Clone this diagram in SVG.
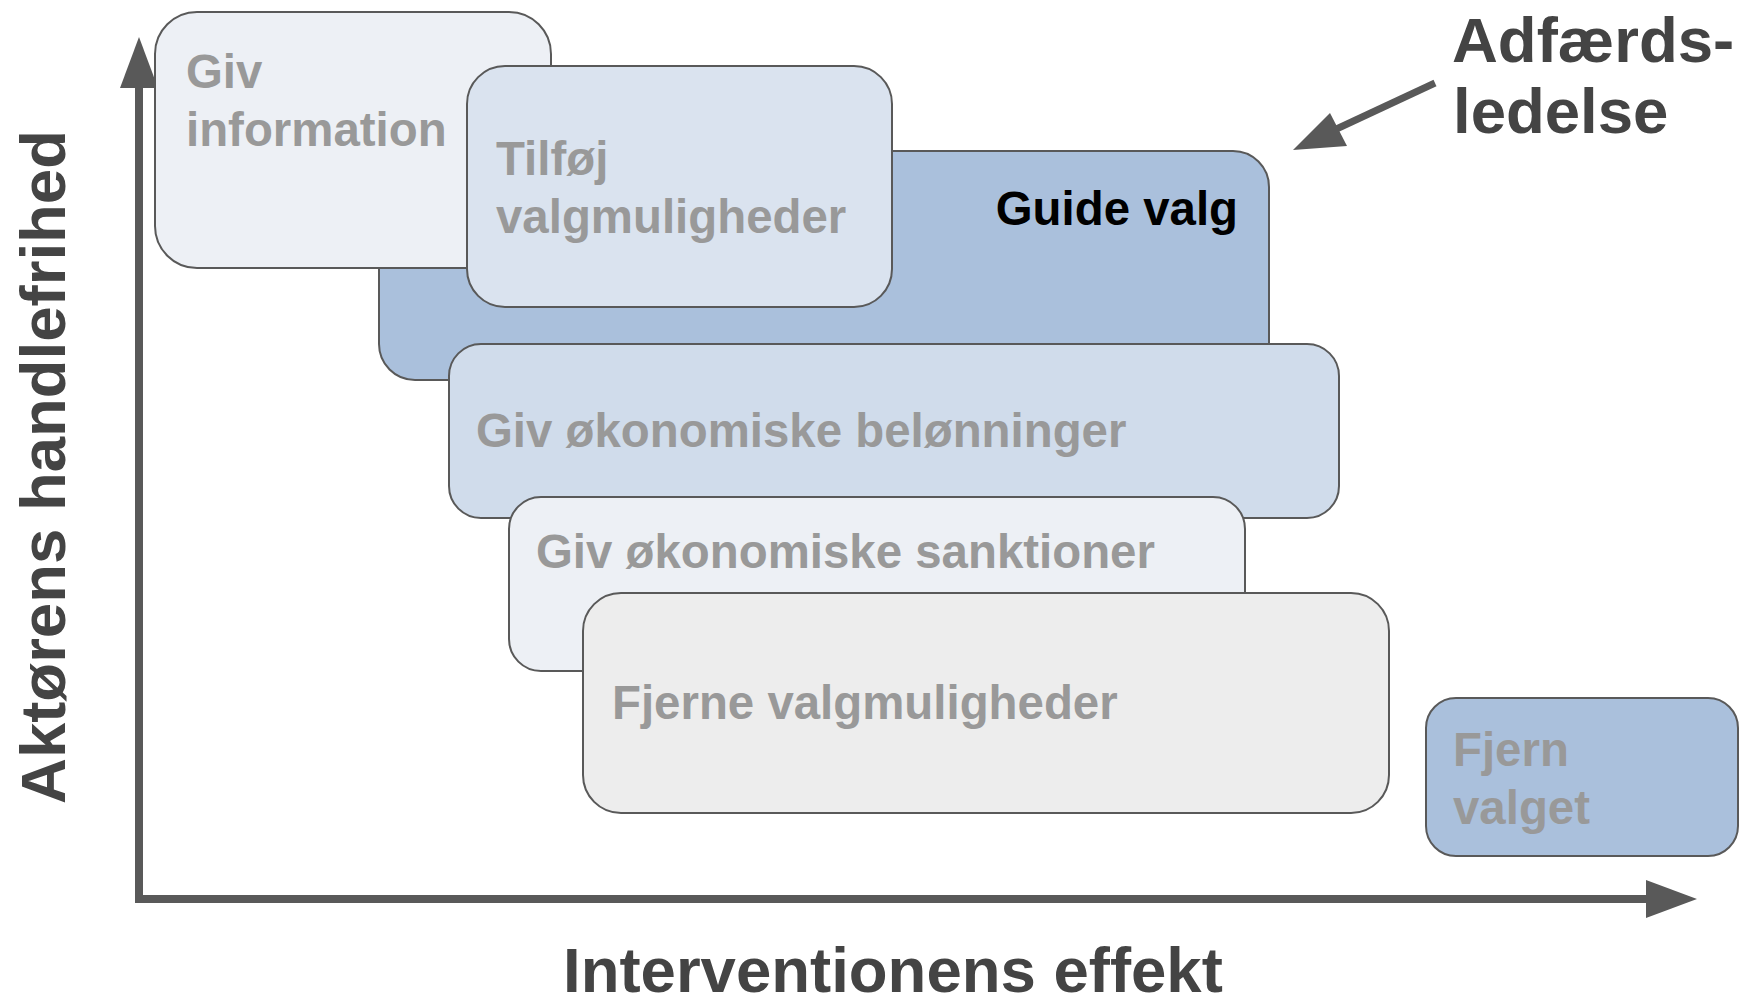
<svg xmlns="http://www.w3.org/2000/svg" width="1745" height="1001" viewBox="0 0 1745 1001">
<style>
.box{stroke:#595959;stroke-width:2}
.t{font-family:"Liberation Sans",Arial,sans-serif;font-weight:bold;font-size:47.4px;fill:#999999}
.lbl{font-family:"Liberation Sans",Arial,sans-serif;font-weight:bold;font-size:63.5px;fill:#444444}
.ax{stroke:#595959;stroke-width:8;fill:none}
.head{fill:#595959}
</style>
<rect width="1745" height="1001" fill="#ffffff"/>
<g id="connectors">
<path class="ax" d="M139,88 L139,899 L1648,899"/>
<path class="head" d="M120,88 L139,37 L158,88 Z"/>
<path class="head" d="M1646,880 L1697,899 L1646,918 Z"/>
<path d="M1435,83 L1330,132" stroke="#595959" stroke-width="7" fill="none"/>
<path class="head" d="M1330,113 L1293,150 L1347,146 Z"/>
</g>
<g id="guide-valg">
<rect class="box" x="379" y="151" width="890" height="229" rx="36" fill="#AAC0DC"/>
<text class="t" x="1238" y="225" text-anchor="end" style="fill:#000000">Guide valg</text>
</g>
<g id="giv-information">
<rect class="box" x="155" y="12" width="396" height="256" rx="42" fill="#EDF0F5"/>
<text class="t" x="186" y="88">Giv</text>
<text class="t" x="186" y="146">information</text>
</g>
<g id="tilfoej-valgmuligheder">
<rect class="box" x="467" y="66" width="425" height="241" rx="38" fill="#DAE3EF"/>
<text class="t" x="496" y="175">Tilføj</text>
<text class="t" x="496" y="233">valgmuligheder</text>
</g>
<g id="giv-beloenninger">
<rect class="box" x="449" y="344" width="890" height="174" rx="32" fill="#D0DCEB"/>
<text class="t" x="476" y="447">Giv økonomiske belønninger</text>
</g>
<g id="giv-sanktioner">
<rect class="box" x="509" y="497" width="736" height="174" rx="32" fill="#EDF0F5"/>
<text class="t" x="536" y="568">Giv økonomiske sanktioner</text>
</g>
<g id="fjerne-valgmuligheder">
<rect class="box" x="583" y="593" width="806" height="220" rx="38" fill="#EDEDED"/>
<text class="t" x="612" y="719">Fjerne valgmuligheder</text>
</g>
<g id="fjern-valget">
<rect class="box" x="1426" y="698" width="312" height="158" rx="30" fill="#AAC0DC"/>
<text class="t" x="1453" y="766">Fjern</text>
<text class="t" x="1453" y="824">valget</text>
</g>
<g id="labels">
<text class="lbl" x="563" y="992">Interventionens effekt</text>
<text class="lbl" transform="translate(65,467) rotate(-90)" text-anchor="middle">Aktørens handlefrihed</text>
<text class="lbl" x="1452" y="62">Adfærds-</text>
<text class="lbl" x="1453" y="133">ledelse</text>
</g>
</svg>
